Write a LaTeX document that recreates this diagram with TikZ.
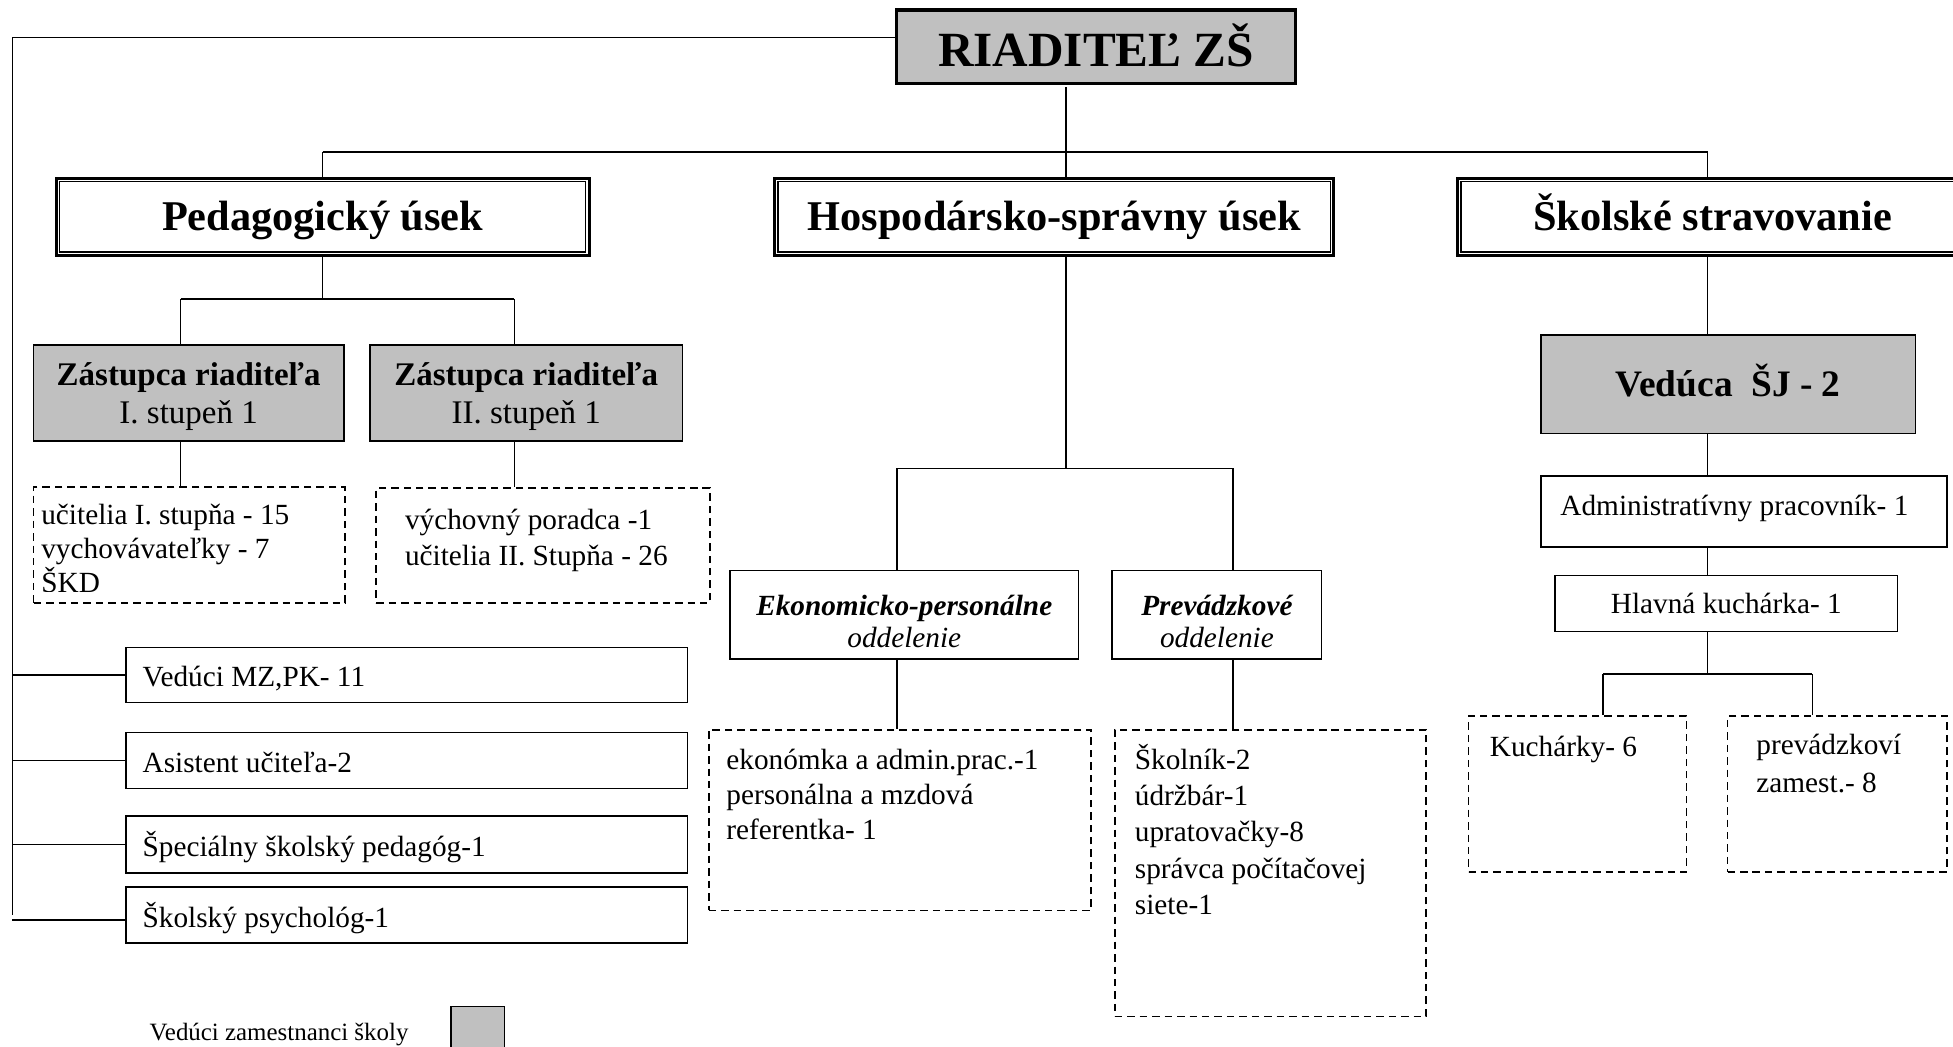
\documentclass[tikz,border=0pt]{standalone}
\usepackage{fontspec}
\setmainfont{Liberation Serif}
\definecolor{boxgrey}{HTML}{C0C0C0}
\begin{document}
\begin{tikzpicture}[x=1pt,y=-1pt,
  conn/.style={line width=1.2pt},
  sz/.style 2 args={minimum width=#1pt, minimum height=#2pt},
  plainbox/.style={draw, line width=1.3pt, inner sep=0pt, rectangle},
  greybox/.style={plainbox, fill=boxgrey},
  dbox/.style={plainbox, dash pattern=on 6pt off 4pt},
  headbox/.style={draw, line width=2.4pt, inner sep=0pt, rectangle, text height=22.5pt, text depth=0pt, font=\fontsize{34}{40}\selectfont\bfseries},
  topbox/.style={draw, line width=2.6pt, inner sep=0pt, rectangle, fill=boxgrey, text height=31pt, text depth=0pt, font=\fontsize{39.5}{44}\selectfont\bfseries},
  reg/.style={font=\fontsize{23.5}{28}\selectfont},
  regtext/.style={reg, inner sep=0pt},
  linetext/.style={regtext, anchor=base west},
  deputytext/.style={inner sep=0pt, align=center, font=\fontsize{26.5}{30.5}\selectfont},
  depttext/.style={inner sep=0pt, align=center, font=\fontsize{23.5}{26}\selectfont}
]
\useasboundingbox (0,0) rectangle (1568,840);

% top
\node[topbox, sz={320}{59}] (rd) at (880,37.5) {RIADITEĽ ZŠ};

% heading boxes
\node[headbox, sz={428}{62}] (ped) at (259,174) {Pedagogický úsek};
\node[headbox, sz={449}{62}] (hosp) at (846.5,174) {Hospodársko-správny úsek};
\node[headbox, sz={410}{62}] (sk) at (1375,174) {Školské stravovanie};
\foreach \n in {ped,hosp,sk}
  \draw[line width=1.2pt] ([xshift=4pt,yshift=-4pt]\n.north west) rectangle ([xshift=-4pt,yshift=4pt]\n.south east);

% pedagogical section
\node[greybox, sz={249}{77}] (z1) at (151.5,315.5) {};
\node[greybox, sz={251}{77}] (z2) at (422.5,315.5) {};
\node[deputytext] (z1t) at (151.5,318.5) {{\bfseries Zástupca riaditeľa}\\I. stupeň 1};
\node[deputytext] (z2t) at (422.5,318.5) {{\bfseries Zástupca riaditeľa}\\II. stupeň 1};
\node[dbox, sz={250}{93}] (d1) at (152,437.5) {};
\node[dbox, sz={268}{92}] (d2) at (436,438) {};
\begin{scope}
  \clip (27,391) rectangle (277,474.5);
  \node[linetext] (d1a) at (33,421) {učitelia I. stupňa - 15};
  \node[linetext] (d1b) at (33,448) {vychovávateľky - 7};
  \node[linetext] (d1c) at (33,476) {ŠKD};
\end{scope}
\node[linetext] (d2a) at (325,425) {výchovný poradca -1};
\node[linetext] (d2b) at (325,454) {učitelia II. Stupňa - 26};

% left column
\node[plainbox, sz={451}{44}] (vm) at (326.5,542) {};
\node[plainbox, sz={451}{45}] (as) at (326.5,610.5) {};
\node[plainbox, sz={451}{46}] (sp) at (326.5,678) {};
\node[plainbox, sz={451}{45}] (ps) at (326.5,734.5) {};
\node[regtext, anchor=west] (vmt) at ([xshift=14pt,yshift=-2.5pt]vm.west) {Vedúci MZ,PK- 11};
\node[regtext, anchor=west] (ast) at ([xshift=14pt,yshift=-2pt]as.west) {Asistent učiteľa-2};
\node[regtext, anchor=west] (spt) at ([xshift=14pt,yshift=-2pt]sp.west) {Špeciálny školský pedagóg-1};
\node[regtext, anchor=west] (pst) at ([xshift=14pt,yshift=-2.5pt]ps.west) {Školský psychológ-1};

% economic section
\node[plainbox, sz={280}{71}] (ek) at (726,493.5) {};
\node[plainbox, sz={168}{71}] (pr) at (977,493.5) {};
\node[depttext] (ekt) at (726,499) {{\bfseries\itshape Ekonomicko-personálne}\\{\itshape oddelenie}};
\node[depttext] (prt) at (977,499) {{\bfseries\itshape Prevádzkové}\\{\itshape oddelenie}};
\node[dbox, sz={307}{145}] (ekd) at (722.5,658.5) {};
\node[dbox, sz={250}{230}] (skd) at (1020,701) {};
\node[linetext] (e1) at (583,618) {ekonómka a admin.prac.-1};
\node[linetext] (e2) at (583,646) {personálna a mzdová};
\node[linetext] (e3) at (583,674) {referentka- 1};
\node[linetext] (s1) at (911,618) {Školník-2};
\node[linetext] (s2) at (911,647) {údržbár-1};
\node[linetext] (s3) at (911,676) {upratovačky-8};
\node[linetext] (s4) at (911,705) {správca počítačovej};
\node[linetext] (s5) at (911,734) {siete-1};

% catering section
\node[greybox, sz={301}{79}, text height=20pt, text depth=0pt, font=\fontsize{30}{34}\selectfont\bfseries] (ved) at (1387.5,308.5) {Vedúca\ \ ŠJ - 2};
\node[plainbox, sz={326}{57}] (adm) at (1400,410.5) {};
\node[regtext] (admt) at (1392.5,408.5) {Administratívny pracovník- 1};
\node[plainbox, sz={275}{45}, reg] (hl) at (1386,484.5) {Hlavná kuchárka- 1};
\node[dbox, sz={175}{125}] (ku) at (1266.5,637.5) {};
\node[dbox, sz={176}{125}] (pz) at (1475,637.5) {};
\node[linetext] (k1) at (1196,607) {Kuchárky- 6};
\node[linetext] (p1) at (1410,606) {prevádzkoví};
\node[linetext] (p2) at (1410,636) {zamest.- 8};

% legend
\node[linetext, font=\fontsize{20}{22}\selectfont] (lg) at (120,835) {Vedúci zamestnanci školy};
\node[greybox, sz={43}{44}] (lgbox) at (383.5,830) {};

% connectors
\coordinate (L0) at (10,30);
\coordinate (L1) at (10,735);
\draw[conn] ([yshift=7.5pt]rd.west) -- (L0) -- (L1);
\foreach \n in {vm,as,sp} \draw[conn] (L0 |- \n.west) -- (\n.west);
\coordinate (psl) at ([yshift=-4pt]ps.west);
\draw[conn] (psl -| L0) -- (psl);

\coordinate (Rb) at (856,70);
\coordinate (BM) at (856,122);
\coordinate (BL) at (259,122);
\coordinate (BR) at (1371,122);
\draw[conn] (Rb) -- (BM);
\draw[conn] (BL) -- (BR);
\draw[conn] (BL) -- (BL |- ped.north);
\draw[conn] (BM) -- (BM |- hosp.north);
\draw[conn] (BR) -- (BR |- sk.north);

\coordinate (PB) at (259,240);
\coordinate (P1) at (145,240);
\coordinate (P2) at (413,240);
\draw[conn] (PB |- ped.south) -- (PB);
\draw[conn] (P1) -- (P2);
\draw[conn] (P1) -- (P1 |- z1.north);
\draw[conn] (P2) -- (P2 |- z2.north);
\draw[conn] (P1 |- z1.south) -- (P1 |- d1.north);
\draw[conn] (P2 |- z2.south) -- (P2 |- d2.north);

\coordinate (HB) at (856,376);
\coordinate (H1) at (720,376);
\coordinate (H2) at (990,376);
\draw[conn] (BM |- hosp.south) -- (HB);
\draw[conn] (H1) -- (H2);
\draw[conn] (H1) -- (H1 |- ek.north);
\draw[conn] (H2) -- (H2 |- pr.north);
\draw[conn] (H1 |- ek.south) -- (H1 |- ekd.north);
\draw[conn] (H2 |- pr.south) -- (H2 |- skd.north);

\coordinate (KB) at (1371,541);
\coordinate (K1) at (1287,541);
\coordinate (K2) at (1455,541);
\draw[conn] (BR |- sk.south) -- (BR |- ved.north);
\draw[conn] (BR |- ved.south) -- (BR |- adm.north);
\draw[conn] (BR |- adm.south) -- (BR |- hl.north);
\draw[conn] (BR |- hl.south) -- (KB);
\draw[conn] (K1) -- (K2);
\draw[conn] (K1) -- (K1 |- ku.north);
\draw[conn] (K2) -- (K2 |- pz.north);
\end{tikzpicture}
\end{document}
